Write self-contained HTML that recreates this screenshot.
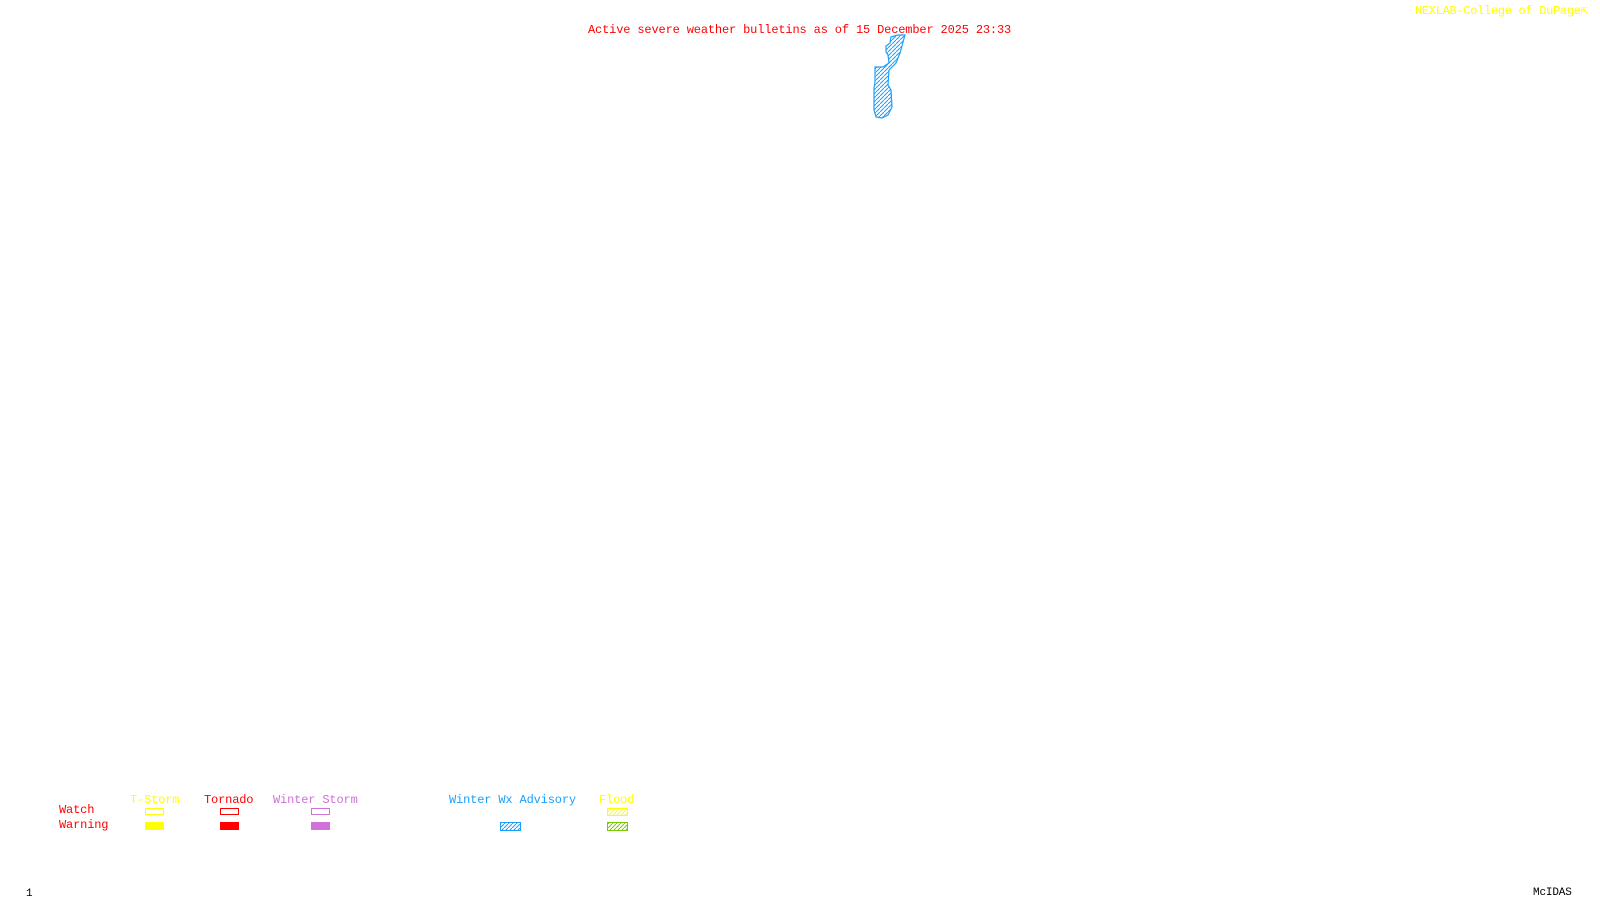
<!DOCTYPE html>
<html><head><meta charset="utf-8"><style>
body{margin:0;width:1600px;height:900px;background:#fff;position:relative;overflow:hidden;font-family:"Liberation Mono","DejaVu Sans Mono",monospace;font-size:12px;}
.t{position:absolute;white-space:nowrap;line-height:12px;letter-spacing:-0.15px;}
.b{position:absolute;width:19px;height:7px;box-sizing:border-box;border:1px solid;}
</style></head><body>
<div class="t" style="left:588px;top:24px;color:#f00">Active severe weather bulletins as of 15 December 2025 23:33</div>
<div class="t" style="left:1415px;top:5px;color:#ff0;letter-spacing:-0.3px">NEXLAB-College of DuPage<span style="font-size:13px">⇱</span></div>
<svg width="1600" height="900" style="position:absolute;left:0;top:0">
<defs><pattern id="h" width="4" height="4" patternUnits="userSpaceOnUse"><path d="M0,4 L4,0" stroke="#19a0ff" stroke-width="1"/></pattern>
<pattern id="hy" width="4" height="4" patternUnits="userSpaceOnUse"><path d="M0,4 L4,0" stroke="#ff0" stroke-width="1"/></pattern>
<pattern id="hg" width="4" height="4" patternUnits="userSpaceOnUse"><path d="M0,4 L4,0" stroke="#7c0" stroke-width="1"/></pattern></defs>
<polygon points="905,35 900,53 896,63 889,70 888,85 891,90 892,107 888,115 882,118 876,117 874,110 874,88 875,82 875,67 883,67 889,63 888,55 886,52 886,46 890,43 891,37 898,35" fill="url(#h)" stroke="#19a0ff" stroke-width="1.2"/>
<rect x="500.5" y="822.5" width="20" height="8" fill="url(#h)" stroke="#19a0ff"/>
<rect x="607.5" y="808.5" width="20" height="7" fill="url(#hy)" stroke="#ff0"/>
<rect x="607.5" y="822.5" width="20" height="8" fill="url(#hg)" stroke="#7c0"/>
</svg>
<div class="t" style="left:130px;top:794px;color:#ff0">T-Storm</div>
<div class="t" style="left:204px;top:794px;color:#f00">Tornado</div>
<div class="t" style="left:273px;top:794px;color:#d070d8">Winter Storm</div>
<div class="t" style="left:449px;top:794px;color:#19a0ff">Winter Wx Advisory</div>
<div class="t" style="left:599px;top:794px;color:#ff0">Flood</div>
<div class="t" style="left:59px;top:804px;color:#f00">Watch</div>
<div class="t" style="left:59px;top:819px;color:#f00">Warning</div>
<div class="b" style="left:145px;top:808px;border-color:#ff0"></div>
<div class="b" style="left:145px;top:822px;border-color:#ff0;background:#ff0;height:8px"></div>
<div class="b" style="left:220px;top:808px;border-color:#f00"></div>
<div class="b" style="left:220px;top:822px;border-color:#f00;background:#f00;height:8px"></div>
<div class="b" style="left:311px;top:808px;border-color:#d070d8"></div>
<div class="b" style="left:311px;top:822px;border-color:#d070d8;background:#d070d8;height:8px"></div>
<div class="t" style="left:26px;top:888px;color:#000;font-size:11px">1</div>
<div class="t" style="left:1533px;top:887px;color:#000;font-size:11px">McIDAS</div>
</body></html>
